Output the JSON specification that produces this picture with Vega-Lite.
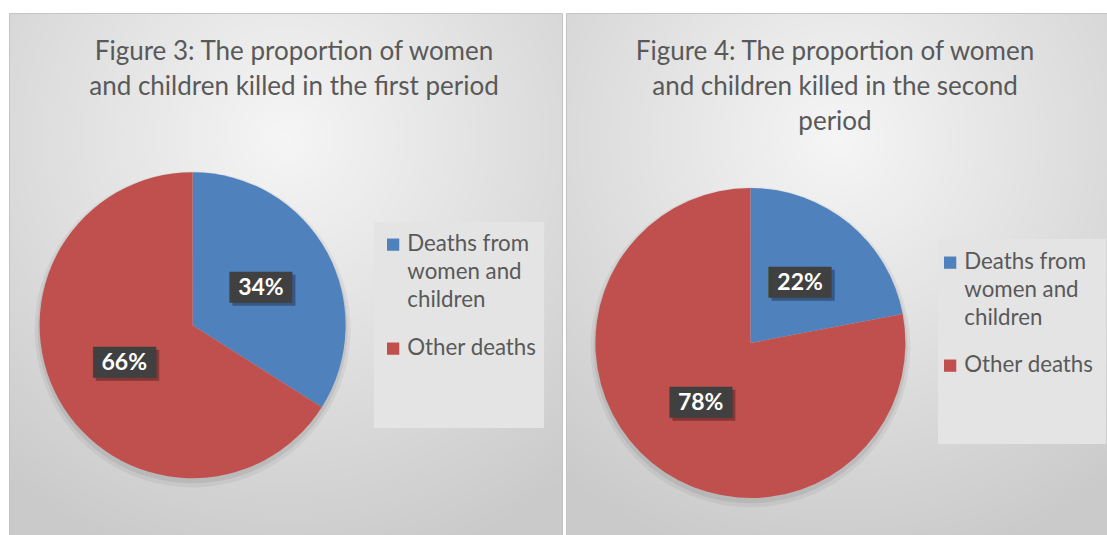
{
  "$schema": "https://vega.github.io/schema/vega-lite/v6.json",
  "background": "white",
  "padding": {"left": 8, "top": 12, "right": 0, "bottom": 0},
  "spacing": 2,
  "resolve": {"scale": {"color": "independent"}, "legend": {"color": "independent"}},
  "datasets": {
    "first": [
      {"category": "Deaths from women and children", "value": 34, "label": "34%"},
      {"category": "Other deaths", "value": 66, "label": "66%"}
    ],
    "second": [
      {"category": "Deaths from women and children", "value": 22, "label": "22%"},
      {"category": "Other deaths", "value": 78, "label": "78%"}
    ]
  },
  "config": {"view": {"stroke": "#c4c4c4"}, "font": "Lato"},
  "hconcat": [
    {
      "width": 553,
      "height": 523,
      "view": {
        "fill": {"gradient": "radial", "x1": 0.5, "y1": 0.25, "r1": 0, "x2": 0.5, "y2": 0.25, "r2": 0.8,
          "stops": [{"offset": 0, "color": "#f5f5f5"}, {"offset": 1, "color": "#cacaca"}]},
        "stroke": "#c4c4c4"
      },
      "layer": [
        {
          "data": {"values": [{}]},
          "mark": {"type": "rect", "color": "#e4e4e4"},
          "encoding": {
            "x": {"datum": 0.66, "type": "quantitative", "scale": {"domain": [0, 1], "nice": false, "zero": false}, "axis": null},
            "x2": {"datum": 0.9675},
            "y": {"datum": 0.3996, "type": "quantitative", "scale": {"domain": [0, 1], "nice": false, "zero": false, "reverse": true}, "axis": null},
            "y2": {"datum": 0.7935}
          }
        },
        {
          "data": {"values": [{}]},
          "mark": {"type": "text", "text": ["Figure 3: The proportion of women", "and children killed in the first period"],
            "align": "center", "baseline": "top", "lineHeight": 35, "fontSize": 26, "font": "Lato", "color": "#595959"},
          "encoding": {
            "x": {"datum": 0.5154, "type": "quantitative", "scale": {"domain": [0, 1], "nice": false, "zero": false}, "axis": null},
            "y": {"datum": 0.0497, "type": "quantitative", "scale": {"domain": [0, 1], "nice": false, "zero": false, "reverse": true}, "axis": null}
          }
        },
        {
          "data": {"name": "first"},
          "encoding": {
            "theta": {"field": "value", "type": "quantitative", "stack": true},
            "x": {"datum": 0.332, "type": "quantitative", "scale": {"domain": [0, 1], "nice": false, "zero": false}, "axis": null},
            "y": {"datum": 0.597, "type": "quantitative", "scale": {"domain": [0, 1], "nice": false, "zero": false, "reverse": true}, "axis": null}
          },
          "layer": [
            {
              "mark": {"type": "arc", "radius": 158, "opacity": 0.05},
              "encoding": {"detail": {"field": "category"}, "color": {"value": "#000000"},
                "y": {"datum": 0.605, "type": "quantitative", "scale": {"domain": [0, 1], "nice": false, "zero": false, "reverse": true}, "axis": null}}
            },
            {
              "mark": {"type": "arc", "radius": 155, "opacity": 0.07},
              "encoding": {"detail": {"field": "category"}, "color": {"value": "#000000"},
                "y": {"datum": 0.603, "type": "quantitative", "scale": {"domain": [0, 1], "nice": false, "zero": false, "reverse": true}, "axis": null}}
            },
            {
              "mark": {"type": "arc", "radius": 153},
              "encoding": {
                "color": {
                  "field": "category", "type": "nominal",
                  "scale": {"domain": ["Deaths from women and children", "Other deaths"], "range": ["#4F81BD", "#C0504D"]},
                  "legend": {
                    "title": null, "orient": "none", "legendX": 373, "legendY": 220.5, "padding": 0,
                    "symbolType": "square", "symbolSize": 150, "symbolStrokeWidth": 0,
                    "labelFont": "Lato", "labelFontSize": 22.3, "labelColor": "#595959", "labelLimit": 300,
                    "labelOffset": 3, "labelBaseline": "top", "rowPadding": 25,
                    "labelExpr": "datum.label == 'Deaths from women and children' ? ['Deaths from', 'women and', 'children'] : datum.label",
                    "encode": {"labels": {"update": {"dy": {"value": -11.5}, "lineHeight": {"value": 28}}}}
                  }
                }
              }
            },
            {
              "mark": {"type": "text", "radius": 78, "text": "████", "font": "DejaVu Sans Mono", "fontSize": 26, "dx": 3, "dy": 3, "opacity": 0.3},
              "encoding": {"detail": {"field": "category"}, "color": {"value": "#000000"}}
            },
            {
              "mark": {"type": "text", "radius": 78, "text": "████", "font": "DejaVu Sans Mono", "fontSize": 26},
              "encoding": {"detail": {"field": "category"}, "color": {"value": "#404040"}}
            },
            {
              "mark": {"type": "text", "radius": 78, "font": "Lato", "fontWeight": "bold", "fontSize": 23},
              "encoding": {"detail": {"field": "category"}, "text": {"field": "label"}, "color": {"value": "#ffffff"}}
            }
          ]
        }
      ]
    },
    {
      "width": 544,
      "height": 523,
      "view": {
        "fill": {"gradient": "radial", "x1": 0.5, "y1": 0.25, "r1": 0, "x2": 0.5, "y2": 0.25, "r2": 0.8,
          "stops": [{"offset": 0, "color": "#f5f5f5"}, {"offset": 1, "color": "#cacaca"}]},
        "stroke": "#c4c4c4"
      },
      "layer": [
        {
          "data": {"values": [{}]},
          "mark": {"type": "rect", "color": "#e4e4e4"},
          "encoding": {
            "x": {"datum": 0.6838, "type": "quantitative", "scale": {"domain": [0, 1], "nice": false, "zero": false}, "axis": null},
            "x2": {"datum": 0.9926},
            "y": {"datum": 0.4321, "type": "quantitative", "scale": {"domain": [0, 1], "nice": false, "zero": false, "reverse": true}, "axis": null},
            "y2": {"datum": 0.8241}
          }
        },
        {
          "data": {"values": [{}]},
          "mark": {"type": "text", "text": ["Figure 4: The proportion of women", "and children killed in the second", "period"],
            "align": "center", "baseline": "top", "lineHeight": 35, "fontSize": 26, "font": "Lato", "color": "#595959"},
          "encoding": {
            "x": {"datum": 0.4945, "type": "quantitative", "scale": {"domain": [0, 1], "nice": false, "zero": false}, "axis": null},
            "y": {"datum": 0.0497, "type": "quantitative", "scale": {"domain": [0, 1], "nice": false, "zero": false, "reverse": true}, "axis": null}
          }
        },
        {
          "data": {"name": "second"},
          "encoding": {
            "theta": {"field": "value", "type": "quantitative", "stack": true},
            "x": {"datum": 0.339, "type": "quantitative", "scale": {"domain": [0, 1], "nice": false, "zero": false}, "axis": null},
            "y": {"datum": 0.631, "type": "quantitative", "scale": {"domain": [0, 1], "nice": false, "zero": false, "reverse": true}, "axis": null}
          },
          "layer": [
            {
              "mark": {"type": "arc", "radius": 160, "opacity": 0.05},
              "encoding": {"detail": {"field": "category"}, "color": {"value": "#000000"},
                "y": {"datum": 0.639, "type": "quantitative", "scale": {"domain": [0, 1], "nice": false, "zero": false, "reverse": true}, "axis": null}}
            },
            {
              "mark": {"type": "arc", "radius": 157, "opacity": 0.07},
              "encoding": {"detail": {"field": "category"}, "color": {"value": "#000000"},
                "y": {"datum": 0.637, "type": "quantitative", "scale": {"domain": [0, 1], "nice": false, "zero": false, "reverse": true}, "axis": null}}
            },
            {
              "mark": {"type": "arc", "radius": 155},
              "encoding": {
                "color": {
                  "field": "category", "type": "nominal",
                  "scale": {"domain": ["Deaths from women and children", "Other deaths"], "range": ["#4F81BD", "#C0504D"]},
                  "legend": {
                    "title": null, "orient": "none", "legendX": 373, "legendY": 238.5, "padding": 0,
                    "symbolType": "square", "symbolSize": 150, "symbolStrokeWidth": 0,
                    "labelFont": "Lato", "labelFontSize": 22.3, "labelColor": "#595959", "labelLimit": 300,
                    "labelOffset": 3, "labelBaseline": "top", "rowPadding": 24,
                    "labelExpr": "datum.label == 'Deaths from women and children' ? ['Deaths from', 'women and', 'children'] : datum.label",
                    "encode": {"labels": {"update": {"dy": {"value": -11.5}, "lineHeight": {"value": 28}}}}
                  }
                }
              }
            },
            {
              "mark": {"type": "text", "radius": 78, "text": "████", "font": "DejaVu Sans Mono", "fontSize": 26, "dx": 3, "dy": 3, "opacity": 0.3},
              "encoding": {"detail": {"field": "category"}, "color": {"value": "#000000"}}
            },
            {
              "mark": {"type": "text", "radius": 78, "text": "████", "font": "DejaVu Sans Mono", "fontSize": 26},
              "encoding": {"detail": {"field": "category"}, "color": {"value": "#404040"}}
            },
            {
              "mark": {"type": "text", "radius": 78, "font": "Lato", "fontWeight": "bold", "fontSize": 23},
              "encoding": {"detail": {"field": "category"}, "text": {"field": "label"}, "color": {"value": "#ffffff"}}
            }
          ]
        }
      ]
    }
  ]
}
